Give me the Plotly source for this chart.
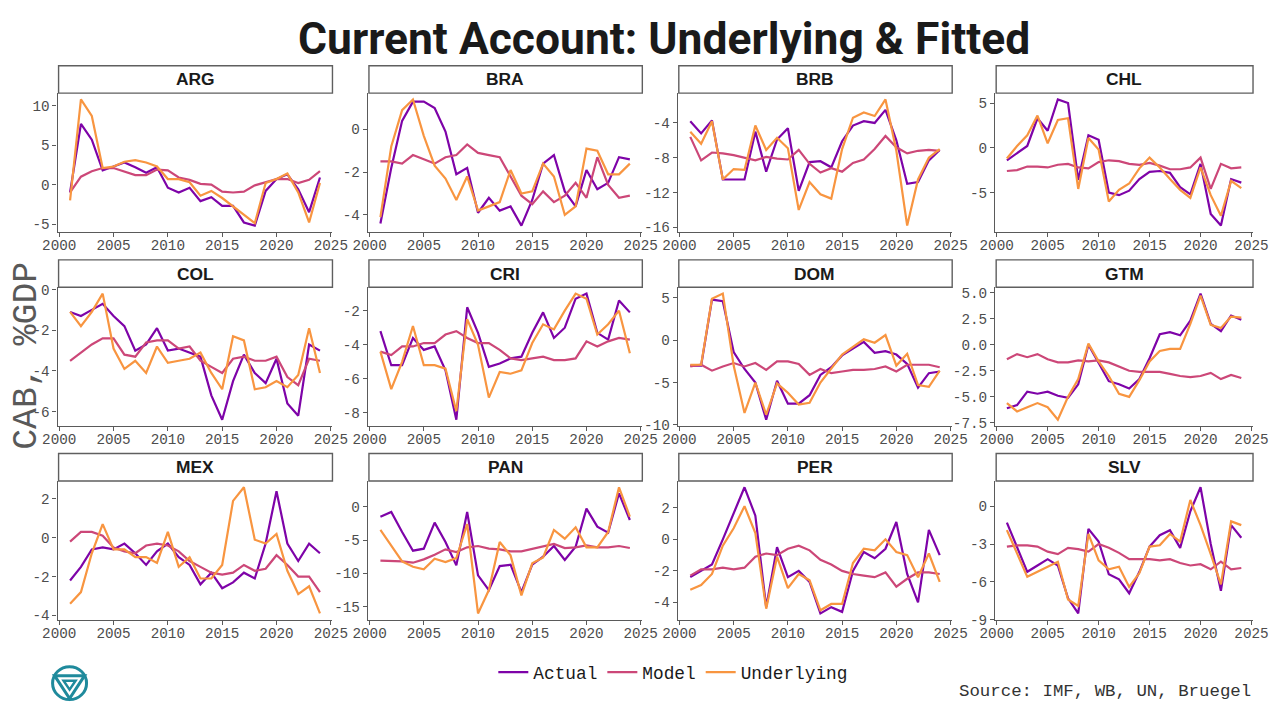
import plotly.graph_objects as go

YEARS = list(range(2001, 2025))
COUNTRIES = ["ARG", "BRA", "BRB", "CHL", "COL", "CRI", "DOM", "GTM", "MEX", "PAN", "PER", "SLV"]
SERIES_NAMES = ["Actual", "Model", "Underlying"]
X_TICKS = [2000, 2005, 2010, 2015, 2020, 2025]

ARG_ACTUAL = [-1.0, 7.7, 5.7, 1.8, 2.3, 2.8, 2.2, 1.5, 2.2, -0.4, -1.0, -0.4, -2.1, -1.6, -2.7, -2.7, -4.8, -5.2, -0.8, 0.7, 1.3, -0.6, -3.5, 0.9]
ARG_MODEL = [-1.0, 1.0, 1.7, 2.1, 2.1, 1.6, 1.2, 1.2, 1.9, 1.8, 0.9, 0.6, 0.1, 0.0, -0.9, -1.0, -0.9, -0.1, 0.3, 0.7, 0.7, 0.2, 0.6, 1.7]
ARG_UNDERLYING = [-2.0, 10.8, 8.7, 2.1, 2.3, 2.9, 3.1, 2.8, 2.3, 0.7, 0.7, 0.3, -1.4, -0.8, -1.7, -2.8, -3.9, -4.9, 0.2, 0.7, 1.4, -1.0, -4.8, 0.2]
ARG_YTICKS = [-5, 0, 5, 10]

BRA_ACTUAL = [-4.4, -1.8, 0.4, 1.3, 1.3, 1.0, -0.1, -2.1, -1.8, -3.9, -3.2, -3.8, -3.6, -4.5, -3.3, -1.6, -1.2, -2.9, -3.6, -1.9, -2.8, -2.5, -1.3, -1.4]
BRA_MODEL = [-1.5, -1.5, -1.6, -1.2, -1.4, -1.6, -1.3, -1.2, -0.7, -1.1, -1.2, -1.3, -2.2, -3.1, -3.5, -2.9, -3.4, -3.1, -2.5, -3.2, -1.3, -2.6, -3.2, -3.1]
BRA_UNDERLYING = [-4.1, -0.8, 0.9, 1.4, -0.3, -1.7, -2.3, -3.3, -2.2, -3.8, -3.6, -3.4, -1.9, -3.0, -2.9, -1.6, -2.2, -4.0, -3.6, -0.9, -1.0, -2.1, -2.1, -1.6]
BRA_YTICKS = [-4, -2, 0]

BRB_ACTUAL = [-3.8, -5.2, -3.7, -10.5, -10.5, -10.5, -5.0, -9.6, -5.9, -4.6, -11.8, -8.5, -8.4, -9.1, -6.1, -4.3, -3.8, -4.0, -2.5, -6.0, -11.0, -10.8, -8.3, -7.1]
BRB_MODEL = [-5.6, -8.3, -7.4, -7.5, -7.7, -8.0, -8.3, -7.9, -8.1, -8.2, -7.1, -8.7, -9.7, -9.2, -9.6, -8.6, -8.2, -7.0, -5.5, -6.8, -7.5, -7.2, -7.1, -7.2]
BRB_UNDERLYING = [-5.0, -6.4, -3.8, -10.5, -9.3, -9.4, -4.3, -7.1, -5.7, -6.9, -14.0, -10.8, -12.2, -12.7, -7.0, -3.4, -2.8, -3.2, -1.3, -7.2, -15.8, -10.5, -8.0, -7.0]
BRB_YTICKS = [-16, -12, -8, -4]

CHL_ACTUAL = [-1.4, -0.6, 0.2, 3.3, 1.9, 5.4, 5.0, -3.6, 1.4, 0.9, -5.0, -5.3, -4.8, -3.5, -2.7, -2.6, -2.8, -4.4, -5.2, -1.8, -7.4, -8.7, -3.5, -3.9]
CHL_MODEL = [-2.6, -2.5, -2.1, -2.1, -2.2, -1.9, -1.8, -2.2, -2.3, -1.6, -1.4, -1.5, -1.8, -1.9, -1.7, -2.0, -2.4, -2.4, -2.2, -1.1, -4.6, -1.8, -2.3, -2.2]
CHL_UNDERLYING = [-1.2, 0.2, 1.4, 3.6, 0.5, 3.1, 3.3, -4.6, 1.1, -0.2, -6.0, -4.7, -4.0, -2.3, -1.1, -2.2, -3.5, -4.7, -5.6, -2.2, -5.3, -7.6, -3.7, -4.5]
CHL_YTICKS = [-5, 0, 5]

COL_ACTUAL = [-1.1, -1.3, -1.0, -0.7, -1.3, -1.8, -3.0, -2.7, -1.9, -3.0, -2.9, -3.1, -3.3, -5.2, -6.4, -4.5, -3.2, -4.1, -4.6, -3.4, -5.6, -6.2, -2.7, -3.0]
COL_MODEL = [-3.5, -3.1, -2.7, -2.4, -2.4, -3.2, -3.3, -2.6, -2.5, -2.5, -2.9, -2.8, -3.5, -3.8, -4.1, -3.4, -3.3, -3.5, -3.5, -3.3, -4.3, -4.7, -3.4, -3.5]
COL_UNDERLYING = [-1.1, -1.8, -1.1, -0.2, -2.9, -3.9, -3.5, -4.1, -2.8, -3.6, -3.5, -3.4, -3.1, -4.1, -4.9, -2.3, -2.5, -4.9, -4.8, -4.5, -4.8, -4.2, -1.9, -4.1]
COL_YTICKS = [-6, -4, -2, 0]

CRI_ACTUAL = [-3.2, -5.2, -5.2, -3.6, -4.3, -4.1, -5.5, -8.4, -1.8, -3.3, -5.3, -5.1, -4.8, -4.7, -3.3, -2.1, -3.6, -3.0, -1.3, -1.0, -3.3, -3.7, -1.4, -2.1]
CRI_MODEL = [-4.4, -4.6, -4.1, -4.1, -3.9, -3.9, -3.4, -3.2, -3.6, -3.9, -3.9, -4.3, -4.8, -4.9, -4.8, -4.7, -4.9, -4.9, -4.8, -3.8, -4.1, -3.8, -3.6, -3.7]
CRI_UNDERLYING = [-4.4, -6.6, -5.0, -2.9, -5.2, -5.2, -5.4, -7.9, -2.5, -4.0, -7.1, -5.6, -5.7, -5.5, -3.9, -2.8, -3.1, -2.0, -1.0, -1.3, -3.4, -2.8, -2.0, -4.5]
CRI_YTICKS = [-8, -6, -4, -2]

DOM_ACTUAL = [-3.0, -3.0, 4.8, 4.6, -1.4, -3.4, -5.0, -9.4, -4.8, -7.5, -7.5, -6.5, -4.1, -3.2, -1.8, -1.0, -0.2, -1.5, -1.3, -1.7, -2.8, -5.6, -3.9, -3.7]
DOM_MODEL = [-3.1, -2.9, -3.6, -3.1, -2.7, -3.1, -2.7, -3.5, -2.5, -2.5, -2.8, -4.1, -3.4, -3.9, -3.7, -3.5, -3.5, -3.4, -3.1, -3.7, -2.9, -2.9, -2.9, -3.2]
DOM_UNDERLYING = [-2.9, -2.9, 4.9, 5.5, -3.0, -8.6, -5.0, -8.8, -5.1, -6.2, -7.6, -7.4, -5.0, -3.4, -1.7, -0.8, 0.1, -0.3, 0.6, -3.0, -1.6, -5.3, -5.5, -3.6]
DOM_YTICKS = [-10, -5, 0, 5]

GTM_ACTUAL = [-6.1, -5.8, -4.5, -4.7, -4.5, -4.9, -5.1, -3.8, 0.0, -1.7, -3.5, -3.8, -4.2, -3.3, -1.3, 1.0, 1.2, 0.9, 2.3, 4.9, 2.0, 1.3, 2.8, 2.4]
GTM_MODEL = [-1.4, -0.9, -1.2, -0.9, -1.4, -1.7, -1.7, -1.5, -1.6, -1.5, -1.7, -2.1, -2.5, -2.6, -2.6, -2.6, -2.8, -3.0, -3.1, -3.0, -2.7, -3.3, -2.9, -3.2]
GTM_UNDERLYING = [-5.6, -6.4, -6.0, -5.6, -6.0, -7.2, -5.0, -3.3, 0.1, -1.6, -3.0, -4.7, -5.0, -3.4, -1.6, -0.6, -0.4, -0.4, 2.0, 4.7, 1.9, 1.6, 2.7, 2.6]
GTM_YTICKS = [-7.5, -5.0, -2.5, 0.0, 2.5, 5.0]

MEX_ACTUAL = [-2.2, -1.5, -0.6, -0.5, -0.6, -0.3, -0.8, -1.4, -0.7, -0.3, -1.0, -1.4, -2.4, -1.8, -2.6, -2.3, -1.8, -2.1, -0.3, 2.4, -0.3, -1.2, -0.3, -0.8]
MEX_MODEL = [-0.2, 0.3, 0.3, 0.1, -0.5, -0.7, -0.8, -0.4, -0.3, -0.4, -0.7, -1.2, -1.5, -1.8, -1.9, -1.8, -1.4, -1.7, -1.6, -0.9, -1.4, -2.0, -2.0, -2.8]
MEX_UNDERLYING = [-3.4, -2.8, -0.8, 0.7, -0.6, -0.6, -1.0, -1.0, -1.3, 0.3, -1.5, -1.0, -2.1, -2.1, -1.4, 1.9, 2.6, -0.1, -0.3, 0.2, -1.7, -2.9, -2.5, -3.9]
MEX_YTICKS = [-4, -2, 0, 2]

PAN_ACTUAL = [-1.5, -0.8, -3.8, -6.6, -6.3, -2.4, -5.3, -8.8, -0.8, -10.3, -12.5, -8.9, -8.7, -12.8, -8.7, -7.5, -5.9, -8.0, -6.0, -0.3, -3.0, -3.9, 2.0, -2.0]
PAN_MODEL = [-8.1, -8.1, -8.2, -8.4, -7.9, -7.2, -6.4, -6.8, -6.1, -5.9, -6.3, -6.4, -6.7, -6.7, -6.3, -5.9, -5.6, -6.2, -6.1, -5.8, -6.1, -6.1, -5.9, -6.2]
PAN_UNDERLYING = [-3.5, -5.8, -8.2, -9.0, -9.4, -7.8, -8.3, -7.7, -2.6, -16.0, -12.5, -5.3, -7.3, -13.3, -8.5, -7.6, -3.5, -4.8, -3.1, -6.1, -6.1, -3.8, 2.9, -1.5]
PAN_YTICKS = [-15, -10, -5, 0]

PER_ACTUAL = [-2.4, -2.0, -1.6, 0.0, 1.6, 3.3, 1.5, -4.3, -0.5, -2.4, -2.0, -2.7, -4.7, -4.3, -4.6, -2.0, -0.8, -1.2, -0.6, 1.1, -2.2, -4.0, 0.6, -1.0]
PER_MODEL = [-2.3, -1.9, -1.9, -1.8, -1.9, -1.8, -1.1, -0.9, -1.0, -0.6, -0.4, -0.7, -1.3, -1.6, -2.0, -2.2, -2.3, -2.4, -2.1, -3.0, -2.5, -2.1, -2.1, -2.2]
PER_UNDERLYING = [-3.2, -2.9, -2.2, -0.4, 0.7, 2.1, 0.4, -4.4, -1.1, -3.1, -2.2, -2.6, -4.5, -4.1, -4.1, -1.5, -0.6, -0.7, 0.0, -0.8, -1.0, -2.4, -0.9, -2.7]
PER_YTICKS = [-4, -2, 0, 2]

SLV_ACTUAL = [-1.3, -3.2, -5.2, -4.7, -4.2, -4.7, -7.3, -8.5, -1.8, -2.8, -5.4, -5.8, -6.9, -5.2, -3.2, -2.3, -1.9, -3.3, -0.4, 1.5, -3.0, -6.7, -1.5, -2.5]
SLV_MODEL = [-3.2, -3.1, -3.1, -3.2, -3.6, -3.8, -3.3, -3.4, -3.6, -3.0, -3.3, -3.7, -4.2, -4.2, -4.2, -4.3, -4.2, -4.5, -4.7, -4.6, -5.0, -4.4, -5.0, -4.9]
SLV_UNDERLYING = [-1.9, -3.8, -5.6, -5.2, -4.8, -4.4, -7.4, -7.9, -2.2, -4.3, -5.0, -4.8, -6.4, -5.3, -3.2, -3.1, -2.2, -2.8, 0.5, -1.5, -3.8, -6.2, -1.2, -1.5]
SLV_YTICKS = [-9, -6, -3, 0]

PANELS = [
    (ARG_ACTUAL, ARG_MODEL, ARG_UNDERLYING, ARG_YTICKS),
    (BRA_ACTUAL, BRA_MODEL, BRA_UNDERLYING, BRA_YTICKS),
    (BRB_ACTUAL, BRB_MODEL, BRB_UNDERLYING, BRB_YTICKS),
    (CHL_ACTUAL, CHL_MODEL, CHL_UNDERLYING, CHL_YTICKS),
    (COL_ACTUAL, COL_MODEL, COL_UNDERLYING, COL_YTICKS),
    (CRI_ACTUAL, CRI_MODEL, CRI_UNDERLYING, CRI_YTICKS),
    (DOM_ACTUAL, DOM_MODEL, DOM_UNDERLYING, DOM_YTICKS),
    (GTM_ACTUAL, GTM_MODEL, GTM_UNDERLYING, GTM_YTICKS),
    (MEX_ACTUAL, MEX_MODEL, MEX_UNDERLYING, MEX_YTICKS),
    (PAN_ACTUAL, PAN_MODEL, PAN_UNDERLYING, PAN_YTICKS),
    (PER_ACTUAL, PER_MODEL, PER_UNDERLYING, PER_YTICKS),
    (SLV_ACTUAL, SLV_MODEL, SLV_UNDERLYING, SLV_YTICKS),
]

COLORS = ["#7E03A8", "#CC4778", "#F89540"]

W, H = 1269, 711
# layout positions below are given in target-picture pixels; the captured picture
# shows the page slightly reduced and offset, so they are mapped back to page pixels
SX, AX = 0.976, 14.4
SY, AY = 0.982, 4.2
FS = 1.0 / SX


def px(X):
    return min(max((X - AX) / SX / W, 0.0), 1.0)


def py(Y):
    return 1.0 - min(max((Y - AY) / SY / H, 0.0), 1.0)


COL_X = [(56, 331), (366.5, 641), (676.5, 951), (994, 1268)]
ROW_Y = [(92.5, 231.5), (287, 426), (481, 620)]
STRIP_H = 27.5
AXIS_COLOR = "#5a5a5a"
TICK_FONT = dict(family="Liberation Mono, DejaVu Sans Mono, monospace", size=round(14 * FS, 1), color="#4d4d4d")

fig = go.Figure()
layout_axes = {}
shapes = []
annotations = []

for i, (code, panel) in enumerate(zip(COUNTRIES, PANELS)):
    r, c = divmod(i, 4)
    n = i + 1
    xa = "x" if n == 1 else f"x{n}"
    ya = "y" if n == 1 else f"y{n}"
    series = panel[:3]
    yticks = panel[3]
    for k, (name, vals) in enumerate(zip(SERIES_NAMES, series)):
        fig.add_trace(go.Scatter(
            x=YEARS, y=vals, mode="lines", name=name,
            line=dict(color=COLORS[k], width=2.2),
            xaxis=xa, yaxis=ya, legendgroup=name, showlegend=(i == 0),
        ))
    allv = [v for s in series for v in s]
    lo, hi = min(allv), max(allv)
    pad = (hi - lo) * 0.05
    x0, x1 = COL_X[c]
    y0, y1 = ROW_Y[r]
    is_float = any(abs(t - round(t)) > 1e-9 for t in yticks)
    ytext = [f"{t:.1f}" if is_float else f"{int(t)}" for t in yticks]
    xpad = (YEARS[-1] - YEARS[0]) * 0.05
    xr = [YEARS[0] - xpad, YEARS[-1] + xpad]
    dx1 = min(px(x1), (W - 1.0) / W)
    layout_axes["xaxis" if n == 1 else f"xaxis{n}"] = dict(
        domain=[px(x0), dx1], anchor=ya, range=xr,
        tickvals=X_TICKS, ticktext=[str(t) for t in X_TICKS],
        showline=True, linecolor=AXIS_COLOR, linewidth=1.3,
        ticks="outside", ticklen=4, tickcolor=AXIS_COLOR, tickwidth=1.2,
        showgrid=False, zeroline=False, tickfont=TICK_FONT,
        ticklabelstandoff=-4,
    )
    layout_axes["yaxis" if n == 1 else f"yaxis{n}"] = dict(
        domain=[py(y1), py(y0)], anchor=xa, range=[lo - pad, hi + pad],
        tickvals=yticks, ticktext=ytext,
        showline=True, linecolor=AXIS_COLOR, linewidth=1.3,
        ticks="outside", ticklen=4, tickcolor=AXIS_COLOR, tickwidth=1.2,
        showgrid=False, zeroline=False, tickfont=TICK_FONT,
    )
    # facet strip
    shapes.append(dict(
        type="rect", xref="paper", yref="paper",
        x0=px(x0 + 1), x1=dx1, y0=py(y0), y1=py(y0 - STRIP_H),
        line=dict(color="#5f5f5f", width=1.4), fillcolor="white", layer="below",
    ))
    annotations.append(dict(
        text=f"<b>{code}</b>", xref="paper", yref="paper",
        x=(px(x0) + dx1) / 2, y=py(y0 - STRIP_H / 2),
        xanchor="center", yanchor="middle", showarrow=False,
        font=dict(family="Liberation Sans, Arial, sans-serif", size=round(17 * FS, 1), color="#1a1a1a"),
    ))

# title
annotations.append(dict(
    text="<b>Current Account: Underlying & Fitted</b>", xref="paper", yref="paper",
    x=px(663), y=py(38), xanchor="center", yanchor="middle", showarrow=False,
    font=dict(family="Roboto, Liberation Sans, sans-serif", size=round(43.3 * FS, 1), color="#1a1a1a"),
))
# y axis title
annotations.append(dict(
    text="CAB, %GDP", xref="paper", yref="paper",
    x=px(25), y=py(356), xanchor="center", yanchor="middle", showarrow=False,
    textangle=-90,
    font=dict(family="Liberation Mono, DejaVu Sans Mono, monospace", size=round(34 * FS, 1), color="#595959"),
))
# source
annotations.append(dict(
    text="Source: IMF, WB, UN, Bruegel", xref="paper", yref="paper",
    x=px(1252), y=py(692), xanchor="right", yanchor="middle", showarrow=False,
    font=dict(family="Liberation Mono, Courier New, monospace", size=round(17 * FS, 1), color="#333333"),
))

# logo (decorative)
lx, ly = 68, 684


def P(X, Y):
    return f"{px(X)},{py(Y)}"


shapes.append(dict(type="circle", xref="paper", yref="paper",
                   x0=px(lx - 17), x1=px(lx + 17), y0=py(ly + 16), y1=py(ly - 17),
                   line=dict(color="#1f8a9c", width=3)))
shapes.append(dict(type="path", xref="paper", yref="paper",
                   path=f"M {P(lx - 15, ly - 8)} L {P(lx + 15, ly - 8)} L {P(lx, ly + 15)} Z",
                   line=dict(color="#1f8a9c", width=3)))
shapes.append(dict(type="path", xref="paper", yref="paper",
                   path=f"M {P(lx - 6, ly - 3)} L {P(lx + 6, ly - 3)} L {P(lx, ly + 6)} Z",
                   line=dict(color="#1f8a9c", width=2.5)))

fig.update_layout(
    width=W, height=H,
    margin=dict(l=0, r=0, t=0, b=0),
    paper_bgcolor="white", plot_bgcolor="white",
    shapes=shapes, annotations=annotations,
    showlegend=True,
    legend=dict(orientation="h", x=px(672), xanchor="center", y=py(673), yanchor="middle",
                font=dict(family="Liberation Mono, DejaVu Sans Mono, monospace", size=round(17.4 * FS, 1), color="#1a1a1a"),
                bgcolor="rgba(0,0,0,0)", itemwidth=30),
    **layout_axes,
)

fig.write_html("out.html", config={"displayModeBar": False},
               post_script="document.body.style.margin='0';document.body.style.overflow='hidden';")
